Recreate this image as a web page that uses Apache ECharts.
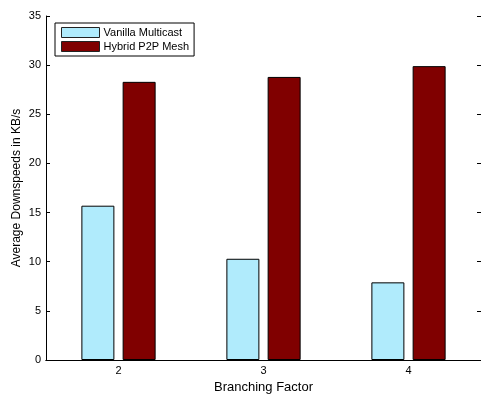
<!DOCTYPE html>
<html>
<head>
<meta charset="utf-8">
<script src="https://cdn.jsdelivr.net/npm/echarts@6/dist/echarts.min.js"></script>
<style>
    html, body { margin: 0; padding: 0; background: #fff; }
    #chart { width: 481px; height: 396px; }
</style>
</head>
<body>
<div id="chart"></div>
<script>
// branching factor on x, downspeed (KB/s) on y
var categories = ["2", "3", "4"];
var vanillaMulticast = [15.7, 10.3, 7.9];
var hybridMesh = [28.3, 28.8, 29.9];
var legendNames = ["Vanilla Multicast", "Hybrid P2P Mesh"];

var chart = echarts.init(document.getElementById("chart"));
var font = "Liberation Sans, Arial, sans-serif";

chart.setOption({
    animation: false,
    grid: {
        left: 46,
        right: 0,
        top: 16,
        bottom: 36,
        outerBoundsMode: "none",
        containLabel: false,
        show: false
    },
    legend: {
        left: 55,
        top: 23,
        orient: "vertical",
        data: legendNames,
        itemWidth: 38,
        itemHeight: 10,
        itemGap: 3,
        padding: [4, 5, 4, 6],
        backgroundColor: "#fff",
        borderColor: "#000",
        borderWidth: 1,
        borderRadius: 0,
        icon: "rect",
        itemStyle: { borderWidth: 1, borderColor: "#222" },
        textStyle: {
            fontFamily: font,
            fontSize: 11,
            color: "#000",
            padding: [0, 0, 0, -1]
        }
    },
    xAxis: [
        {
            type: "category",
            data: categories,
            name: "Branching Factor",
            nameLocation: "middle",
            nameGap: 19,
            nameTextStyle: { fontFamily: font, fontSize: 13, color: "#000" },
            axisLine: { lineStyle: { color: "#000", width: 1 } },
            axisTick: { inside: true, alignWithLabel: true, length: 4, lineStyle: { color: "#000" } },
            axisLabel: { fontFamily: font, fontSize: 11, color: "#000", margin: 5 }
        },
        {
            type: "category",
            data: categories,
            position: "top",
            axisLine: { show: true, lineStyle: { color: "#000", width: 1 } },
            axisTick: { inside: true, alignWithLabel: true, length: 4, lineStyle: { color: "#000" } },
            axisLabel: { show: false }
        }
    ],
    yAxis: [
        {
            type: "value",
            min: 0,
            max: 35,
            interval: 5,
            name: "Average Downspeeds in KB/s",
            nameLocation: "middle",
            nameGap: 23,
            nameMoveOverlap: false,
            nameTextStyle: { fontFamily: font, fontSize: 12, color: "#000" },
            splitLine: { show: false },
            axisLine: { show: true, lineStyle: { color: "#000", width: 1 } },
            axisTick: { show: true, inside: true, length: 4, lineStyle: { color: "#000" } },
            axisLabel: { fontFamily: font, fontSize: 11, color: "#000", margin: 5 }
        },
        {
            type: "value",
            min: 0,
            max: 35,
            interval: 5,
            position: "right",
            splitLine: { show: false },
            axisLine: { show: false },
            axisTick: { show: true, inside: true, length: 4, lineStyle: { color: "#000" } },
            axisLabel: { show: false }
        }
    ],
    series: [
        {
            name: legendNames[0],
            type: "bar",
            data: vanillaMulticast,
            barWidth: 33,
            barGap: "25%",
            itemStyle: { color: "#b0ebfc", borderColor: "#000", borderWidth: 1 }
        },
        {
            name: legendNames[1],
            type: "bar",
            data: hybridMesh,
            barWidth: 33,
            barGap: "25%",
            itemStyle: { color: "#800000", borderColor: "#000", borderWidth: 1 }
        }
    ]
});
</script>
</body>
</html>
